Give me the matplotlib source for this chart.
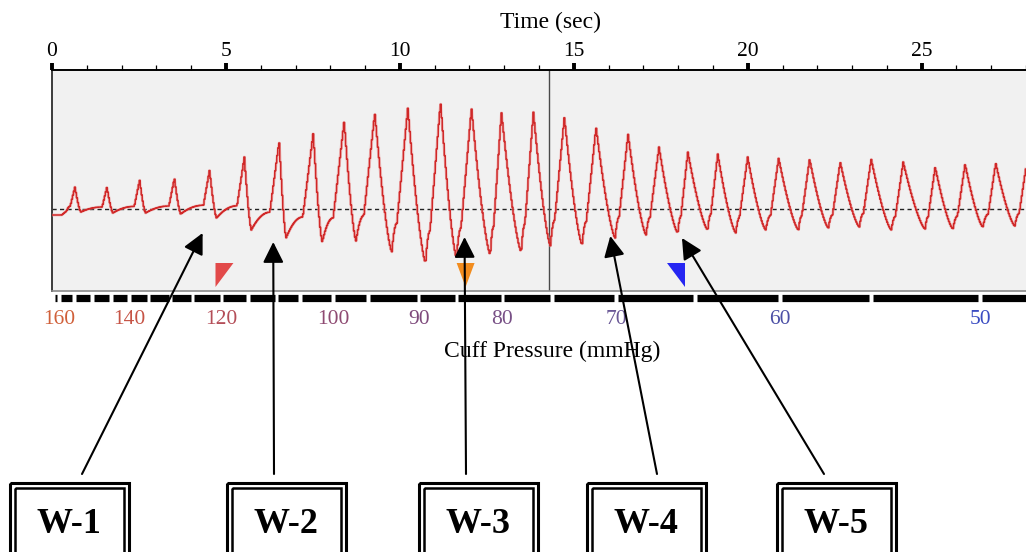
import numpy as np
import matplotlib
matplotlib.use("Agg")
import matplotlib.pyplot as plt
from matplotlib.patches import Rectangle, Polygon
import matplotlib.transforms as mtransforms

# ---------------- data ----------------
# oscillometric cuff signal: pulse peaks and the troughs that follow them
peak_times = [0.66, 1.58, 2.52, 3.52, 4.53, 5.53, 6.53, 7.51, 8.40, 9.28, 10.23,
              11.17, 12.06, 12.92, 13.84, 14.73, 15.64, 16.56, 17.45, 18.28,
              19.14, 20.00, 20.89, 21.78, 22.66, 23.55, 24.47, 25.39, 26.25,
              27.13, 28.02]
peak_vals = [22, 22, 29, 31, 39, 52, 68, 76, 88, 96, 101, 107, 101, 97, 97, 92,
             82, 75, 62, 57, 55, 52, 51, 50, 47, 50, 47, 42, 45, 46, 46]
trough_times = [0.83, 1.75, 2.69, 3.70, 4.73, 5.73, 6.73, 7.77, 8.74, 9.77,
                10.74, 11.63, 12.60, 13.49, 14.33, 15.24, 16.19, 17.08, 17.99,
                18.85, 19.66, 20.52, 21.46, 22.32, 23.21, 24.13, 25.10, 25.90,
                26.76, 27.68]
trough_vals = [-3, -4, -4, -5, -9, -21, -29, -33, -32, -43, -54, -49, -46, -43,
               -37, -36, -29, -26, -24, -21, -24, -21, -21, -19, -18, -21, -20,
               -20, -18, -17]
start_times = [0.0, 0.28, 0.42]
start_vals = [-6, -6, -2]

cursor_time = 14.30

# cuff pressure scale: time at which each 5 mmHg step is reached
press_marks = [160, 155, 150, 145, 140, 135, 130, 125, 120, 115, 110, 105, 100,
               95, 90, 85, 80, 75, 70, 65, 60, 55, 50]
press_times = [0.20, 0.63, 1.15, 1.69, 2.21, 2.78, 3.41, 4.04, 4.87, 5.64, 6.45,
               7.13, 8.08, 9.08, 10.54, 11.63, 12.95, 14.38, 16.22, 18.48,
               20.92, 23.55, 26.68]
press_labels = [160, 140, 120, 100, 90, 80, 70, 60, 50]
press_label_colors = ["#d0603a", "#c65446", "#b44e58", "#8e4a72", "#7e4a7c",
                      "#785086", "#6a5896", "#4c50a6", "#3a4cc2"]

# markers (systolic / MAP / diastolic)
marker_times = [4.70, 11.89, 18.20]
marker_colors = ["#e24a4a", "#f28c1e", "#2626f2"]
marker_kinds = ["left", "center", "right"]

# annotation boxes
box_labels = ["W-1", "W-2", "W-3", "W-4", "W-5"]
arrow_tip_t = [4.33, 6.36, 11.86, 16.05, 18.11]
arrow_tip_v = [-24, -33, -28, -27, -29]

# ---------------- layout (pixels) ----------------
W, H = 1026, 552
PX_PER_S = 34.9
ax_left, ax_top, ax_bottom = 52, 70, 291
tmax = (W - ax_left) / PX_PER_S
vtop, vbot = 209 - ax_top, 209 - ax_bottom

SERIF = ["Liberation Serif", "DejaVu Serif"]
plt.rcParams["font.family"] = SERIF

fig = plt.figure(figsize=(W / 100, H / 100), dpi=100)
fig.patch.set_facecolor("white")
ax = fig.add_axes([ax_left / W, 1 - ax_bottom / H, (W - ax_left) / W,
                   (ax_bottom - ax_top) / H])
ax.set_facecolor("#f1f1f1")
ax.set_xlim(0, tmax)
ax.set_ylim(vbot, vtop)

# ---------------- build waveform from key points ----------------
def build_wave():
    ts = list(start_times)
    vs = list(start_vals)
    pt, pv = start_times[-1], start_vals[-1]
    s = np.linspace(0, 1, 30)[1:]
    for i, (tp, vp) in enumerate(zip(peak_times, peak_vals)):
        amp = vp - pv
        r = np.clip(3 + amp / 14.0, 4, 11) / PX_PER_S
        tf = max(pt + 0.3 * (tp - pt), tp - r)
        vf = pv + 0.2 * amp
        # gradual recovery from trough to the foot of the upstroke
        ts.extend(pt + s * (tf - pt))
        vs.extend(pv + (vf - pv) * (1 - (1 - s) ** 2))
        # steep upstroke
        ts.extend(tf + s * (tp - tf))
        vs.extend(vf + (vp - vf) * s)
        if i < len(trough_times):
            tt, vt = trough_times[i], trough_vals[i]
            ts.extend(tp + s * (tt - tp))
            vs.extend(vt + (vp - vt) * (1 - s) ** 1.4)
            pt, pv = tt, vt
    return np.array(ts), np.array(vs)

wt, wv = build_wave()
grid = np.arange(0, wt[-1], 1.0 / PX_PER_S)
gv = np.interp(grid, wt, wv)
ax.plot(grid, gv, color="#f0a0a0", lw=2.2, alpha=0.5, zorder=3)
ax.plot(grid, gv, color="#d02828", lw=1.1, drawstyle="steps-mid", zorder=3)

# baseline and cursor
ax.axhline(0, color="#222222", lw=1.0, dashes=(3, 2.4), zorder=2)
ax.axvline(cursor_time, color="#4a4a4a", lw=1.0, zorder=2)

# markers
mw = 18 / PX_PER_S
mtop, mbot = 209 - 263, 209 - 287
for t, c, k in zip(marker_times, marker_colors, marker_kinds):
    if k == "left":
        pts = [(t, mtop), (t + mw, mtop), (t, mbot)]
    elif k == "right":
        pts = [(t - mw, mtop), (t, mtop), (t, mbot)]
    else:
        pts = [(t - mw / 2, mtop), (t + mw / 2, mtop), (t, mbot)]
    ax.add_patch(Polygon(pts, closed=True, facecolor=c, edgecolor="none",
                         zorder=4))

# spines & ticks
ax.spines["right"].set_visible(False)
ax.spines["top"].set_color("black")
ax.spines["top"].set_linewidth(1.4)
ax.spines["left"].set_color("#3c3c3c")
ax.spines["left"].set_linewidth(1.4)
ax.spines["bottom"].set_color("#8a8a8a")
ax.spines["bottom"].set_linewidth(1.2)
ax.xaxis.tick_top()
ax.set_xticks(np.arange(0, 30, 5))
ax.set_xticks(np.arange(0, 29, 1), minor=True)
ax.tick_params(axis="x", which="major", length=5, width=2.8, color="black",
               pad=1.5, labelsize=15.5, top=True, bottom=False)
ax.tick_params(axis="x", which="minor", length=3.6, width=0.9, color="black",
               top=True, bottom=False)
ax.set_yticks([])
for lab in ax.get_xticklabels():
    lab.set_fontfamily(SERIF)

# pressure ruler below the plot
blend = mtransforms.blended_transform_factory(ax.transData, ax.transAxes)
ry = (ax_bottom - 298) / (ax_bottom - ax_top)
gap = 3.6 / PX_PER_S
segs = [(3 / PX_PER_S, press_times[0] - gap / 2)]
for a, b in zip(press_times[:-1], press_times[1:]):
    segs.append((a + gap / 2, b - gap / 2))
segs.append((press_times[-1] + gap / 2, tmax + 1))
for a, b in segs:
    ax.plot([a, b], [ry, ry], transform=blend, color="black", lw=5.2,
            solid_capstyle="butt", clip_on=False)
ly = (ax_bottom - 324) / (ax_bottom - ax_top)
for p, c in zip(press_labels, press_label_colors):
    t = press_times[press_marks.index(p)]
    ax.text(t, ly, str(p), transform=blend, ha="center", va="baseline",
            color=c, fontsize=15.5, family=SERIF, clip_on=False)

# ---------------- overlay: titles, boxes, arrows ----------------
ov = fig.add_axes([0, 0, 1, 1], zorder=10)
ov.set_xlim(0, W)
ov.set_ylim(H, 0)
ov.axis("off")

ov.text(550, 28, "Time (sec)", ha="center", va="baseline", fontsize=17,
        family=SERIF)
ov.text(552, 357, "Cuff Pressure (mmHg)", ha="center", va="baseline",
        fontsize=17, family=SERIF)

box_left = [8, 225, 417, 585, 775]
box_w = 122
tail_x = [82, 274, 466, 657, 824]
for lab, bx, tx, at, av in zip(box_labels, box_left, tail_x, arrow_tip_t,
                               arrow_tip_v):
    ov.add_patch(Rectangle((bx + 1.5, 482.5), box_w - 3, 100, fill=False,
                           edgecolor="black", lw=2.2))
    ov.add_patch(Rectangle((bx + 6.5, 488), box_w - 13, 100, fill=False,
                           edgecolor="black", lw=1.8))
    ov.text(bx + box_w / 2, 533, lab, ha="center", va="baseline",
            fontsize=26, fontweight="bold", family=SERIF)
    ov.annotate("", xy=(at, av), xycoords=ax.transData, xytext=(tx, 474),
                textcoords=ov.transData, annotation_clip=False,
                arrowprops=dict(arrowstyle="-|>,head_length=0.9,head_width=0.45",
                                mutation_scale=14, lw=1.5, color="black",
                                shrinkA=0, shrinkB=0))

fig.savefig("out.png", dpi=100)
